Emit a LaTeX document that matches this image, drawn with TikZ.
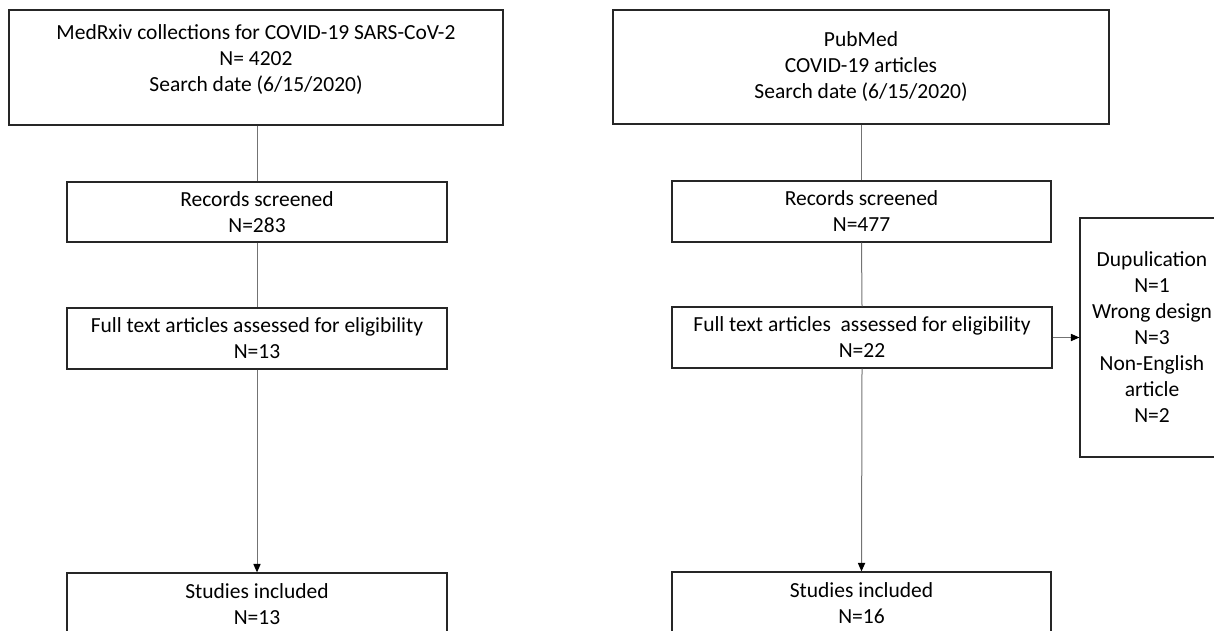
\documentclass[tikz,border=0pt]{standalone}
\usepackage{fontspec}
\setmainfont{Carlito}
\usetikzlibrary{arrows.meta}
\tikzset{
	box/.style={draw=black!85, line width=0.65pt, align=center, inner sep=3pt, font=\fontsize{10.75}{13}\selectfont},
	link/.style={draw=black!55, line width=0.5pt},
	arr/.style={link, -{Triangle[width=3.6pt, length=4.2pt, color=black]}}
}

\begin{document}
\begin{tikzpicture}[x=0.5pt, y=-0.5pt]
		%%%%% START %%%%%
		
		\clip (0, 0) rectangle (1214, 631);
		
		% MedRxiv side
		\node[box, minimum width=247pt, minimum height=57.5pt, text depth=9.5pt] (medrxiv) at (256, 67.5) {MedRxiv collections for COVID-19 SARS-CoV-2\\N= 4202\\Search date (6/15/2020)};
		\node[box, minimum width=190pt, minimum height=30pt] (screenL) at (257, 212) {Records screened\\N=283};
		\node[box, minimum width=190pt, minimum height=30.5pt] (fullL) at (257, 338.5) {Full text articles assessed for eligibility\\N=13};
		\node[box, minimum width=190pt, minimum height=31pt] (studiesL) at (257, 604) {Studies included\\N=13};
		
		% PubMed side
		\node[box, minimum width=248pt, minimum height=57pt] (pubmed) at (861, 67) {PubMed\\COVID-19 articles\\Search date (6/15/2020)};
		\node[box, minimum width=189.5pt, minimum height=30.5pt] (screenR) at (861.5, 211.5) {Records screened\\N=477};
		\node[box, minimum width=190pt, minimum height=30.5pt] (fullR) at (862, 337.5) {Full text articles~ assessed for eligibility\\N=22};
		\node[box, minimum width=189.5pt, minimum height=31pt] (studiesR) at (861.5, 603) {Studies included\\N=16};
		\node[box, minimum width=72pt, minimum height=119.5pt] (excluded) at (1152, 337.5) {Dupulication\\N=1\\Wrong design\\N=3\\Non-English\\article\\N=2};
		
		% connectors
		\draw[link] (medrxiv.south -| screenL.north) -- (screenL.north);
		\draw[link] (screenL.south) -- (fullL.north);
		\draw[arr] (fullL.south) -- (studiesL.north);
		
		\draw[link] (pubmed.south -| screenR.north) -- (screenR.north);
		\draw[link] (screenR.south) -- (fullR.north);
		\draw[arr] (fullR.south) -- (studiesR.north);
		\draw[arr] (fullR.east) -- (excluded.west |- fullR.east);
		
		%%%%% END %%%%%
	\end{tikzpicture}
\end{document}
